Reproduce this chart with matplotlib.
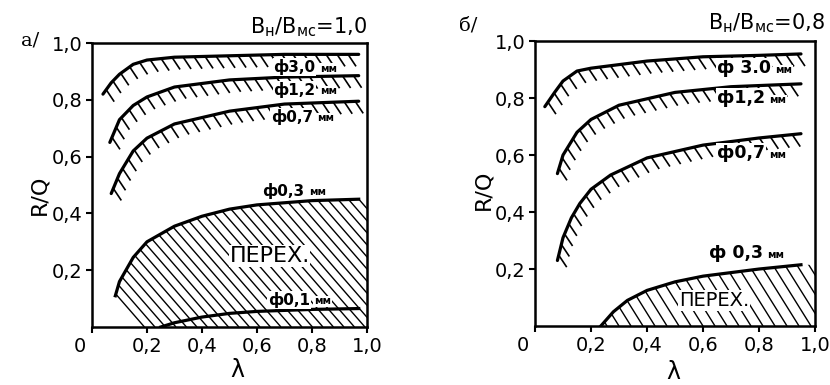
import numpy as np
import matplotlib.pyplot as plt
from matplotlib.patches import Polygon
from matplotlib.collections import LineCollection
from matplotlib.transforms import ScaledTranslation

# --- panel a: Bн/Bмс = 1,0 ---
a_x30 = [0.04, 0.07, 0.10, 0.15, 0.20, 0.30, 0.50, 0.70, 0.97]
a_y30 = [0.82, 0.86, 0.89, 0.925, 0.94, 0.95, 0.955, 0.96, 0.96]
a_x12 = [0.065, 0.10, 0.15, 0.20, 0.30, 0.50, 0.70, 0.97]
a_y12 = [0.65, 0.73, 0.78, 0.81, 0.845, 0.87, 0.88, 0.885]
a_x07 = [0.07, 0.10, 0.15, 0.20, 0.30, 0.50, 0.70, 0.97]
a_y07 = [0.47, 0.54, 0.62, 0.665, 0.715, 0.76, 0.785, 0.795]
a_x03 = [0.085, 0.10, 0.15, 0.20, 0.30, 0.40, 0.50, 0.60, 0.80, 0.97]
a_y03 = [0.11, 0.16, 0.245, 0.30, 0.355, 0.39, 0.415, 0.43, 0.445, 0.45]
a_x01 = [0.25, 0.30, 0.40, 0.50, 0.60, 0.80, 0.97]
a_y01 = [0.0, 0.015, 0.035, 0.048, 0.055, 0.062, 0.065]
a_hatch_foot = 0.175   # where the hatched area meets the x axis on the left

# --- panel b: Bн/Bмс = 0,8 ---
b_x30 = [0.035, 0.07, 0.10, 0.15, 0.20, 0.40, 0.60, 0.80, 0.95]
b_y30 = [0.77, 0.82, 0.86, 0.895, 0.905, 0.93, 0.945, 0.95, 0.955]
b_x12 = [0.08, 0.10, 0.15, 0.20, 0.30, 0.50, 0.70, 0.95]
b_y12 = [0.535, 0.60, 0.68, 0.725, 0.775, 0.82, 0.84, 0.85]
b_x07 = [0.08, 0.10, 0.13, 0.16, 0.20, 0.27, 0.40, 0.60, 0.80, 0.95]
b_y07 = [0.23, 0.31, 0.38, 0.43, 0.48, 0.53, 0.59, 0.635, 0.66, 0.675]
b_x03 = [0.235, 0.28, 0.33, 0.40, 0.50, 0.60, 0.80, 0.95]
b_y03 = [0.0, 0.05, 0.09, 0.125, 0.155, 0.175, 0.20, 0.215]

x_ticks = [0, 0.2, 0.4, 0.6, 0.8, 1.0]
x_labels = ['0', '0,2', '0,4', '0,6', '0,8', '1,0']
y_ticks = [0.2, 0.4, 0.6, 0.8, 1.0]
y_labels = ['0,2', '0,4', '0,6', '0,8', '1,0']


def to_px(ax, xs, ys):
    return ax.transData.transform(np.column_stack([xs, ys]))


def to_data(ax, pts):
    return ax.transData.inverted().transform(pts)


def boundary(ax, xs, ys, step=11.0, dx=8.0, dy=12.0):
    """Thick curve with short strokes hanging below it."""
    ax.plot(xs, ys, color='k', lw=2.3, solid_capstyle='round', zorder=3)
    xf = np.linspace(xs[0], xs[-1], 400)
    yf = np.interp(xf, xs, ys)
    p = to_px(ax, xf, yf)
    s = np.concatenate([[0], np.cumsum(np.hypot(*np.diff(p, axis=0).T))])
    si = np.arange(step * 0.5, s[-1], step)
    px = np.interp(si, s, p[:, 0])
    py = np.interp(si, s, p[:, 1])
    segs = [to_data(ax, [[u, v], [u + dx, v - dy]]) for u, v in zip(px, py)]
    ax.add_collection(LineCollection(segs, colors='k', lw=1.2, zorder=2))


def hatch_area(ax, xs, ys, foot, spacing, k):
    """Diagonal hatching under a curve down to the x axis."""
    pts = list(zip(xs, ys)) + [(1.0, ys[-1]), (1.0, 0.0), (foot, 0.0)]
    patch = Polygon(pts, closed=True, facecolor='none', edgecolor='none')
    ax.add_patch(patch)
    bb = ax.bbox
    h = bb.y1 - bb.y0
    segs = []
    for c in np.arange(bb.x0 - h / k, bb.x1 + spacing, spacing):
        segs.append(to_data(ax, [[c, bb.y1], [c + h / k, bb.y0]]))
    lc = LineCollection(segs, colors='k', lw=1.0, zorder=1)
    ax.add_collection(lc)
    lc.set_clip_path(patch)


def dia_label(ax, x, y, num, size=11):
    t = ax.text(x, y, 'ф' + num, fontsize=size, fontweight='bold', va='center',
                ha='left', zorder=5,
                bbox=dict(facecolor='white', edgecolor='none', pad=0.5))
    ax.annotate('мм', xy=(1, 0.1), xycoords=t, xytext=(3, 0),
                textcoords='offset points', fontsize=7.5, va='bottom', ha='left',
                fontweight='bold', zorder=5,
                bbox=dict(facecolor='white', edgecolor='none', pad=0.5))


def setup(ax):
    ax.set_xlim(0, 1.0)
    ax.set_ylim(0, 1.0)
    ax.set_xticks(x_ticks)
    ax.set_xticklabels(x_labels)
    ax.set_yticks(y_ticks)
    ax.set_yticklabels(y_labels)
    for sp in ax.spines.values():
        sp.set_linewidth(1.8)
    ax.tick_params(length=4, width=1.5, labelsize=14, pad=3)
    zero = ax.get_xticklabels()[0]
    zero.set_transform(zero.get_transform() + ScaledTranslation(-0.12, 0, fig.dpi_scale_trans))


fig = plt.figure(figsize=(8.3, 3.85), dpi=100)
ax1 = fig.add_axes([0.1108, 0.1506, 0.3313, 0.7377])
ax2 = fig.add_axes([0.6446, 0.1532, 0.3373, 0.7400])
setup(ax1)
setup(ax2)

# panel a
hatch_area(ax1, a_x03, a_y03, a_hatch_foot, spacing=10.5, k=1.15)
ax1.plot(a_x03, a_y03, color='k', lw=2.3, zorder=3)
ax1.plot(a_x01, a_y01, color='k', lw=2.3, zorder=3)
boundary(ax1, a_x30, a_y30)
boundary(ax1, a_x12, a_y12)
boundary(ax1, a_x07, a_y07)
dia_label(ax1, 0.66, 0.915, '3,0')
dia_label(ax1, 0.66, 0.835, '1,2')
dia_label(ax1, 0.65, 0.74, '0,7')
dia_label(ax1, 0.62, 0.48, '0,3')
dia_label(ax1, 0.64, 0.095, '0,1')
ax1.text(0.50, 0.25, 'ПЕРЕХ.', fontsize=16, va='center', ha='left',
         zorder=5, bbox=dict(facecolor='white', edgecolor='none', pad=0.5))
ax1.text(1.0, 1.015, r'B$_\mathregular{н}$/B$_\mathregular{мс}$=1,0', transform=ax1.transAxes,
         fontsize=15, ha='right', va='bottom')

# panel b
b_foot = b_x03[0]
hatch_area(ax2, b_x03, b_y03, b_foot, spacing=12, k=1.6)
ax2.plot(b_x03, b_y03, color='k', lw=2.3, zorder=3)
boundary(ax2, b_x30, b_y30)
boundary(ax2, b_x12, b_y12)
boundary(ax2, b_x07, b_y07)
dia_label(ax2, 0.65, 0.905, ' 3.0', size=12.5)
dia_label(ax2, 0.65, 0.80, '1,2', size=12.5)
dia_label(ax2, 0.65, 0.607, '0,7', size=12.5)
dia_label(ax2, 0.62, 0.256, ' 0,3', size=12.5)
ax2.text(0.515, 0.09, 'ПЕРЕХ.', fontsize=14, va='center', ha='left',
         zorder=5, bbox=dict(facecolor='white', edgecolor='none', pad=0.5))
ax2.text(1.036, 1.02, r'B$_\mathregular{н}$/B$_\mathregular{мс}$=0,8', transform=ax2.transAxes,
         fontsize=15, ha='right', va='bottom')

# axis titles and panel letters
for x, y in [(0.048, 0.494), (0.582, 0.506)]:
    fig.text(x, y, 'R/Q', rotation=90, fontsize=16, ha='center', va='center')
for x, y in [(0.286, 0.04), (0.811, 0.035)]:
    fig.text(x, y, 'λ', fontsize=17, ha='center', va='center')
fig.text(0.025, 0.896, 'а/', fontsize=14, family='DejaVu Serif', ha='left', va='center')
fig.text(0.553, 0.935, 'б/', fontsize=14, family='DejaVu Serif', ha='left', va='center')

fig.savefig('out.png', dpi=100)
